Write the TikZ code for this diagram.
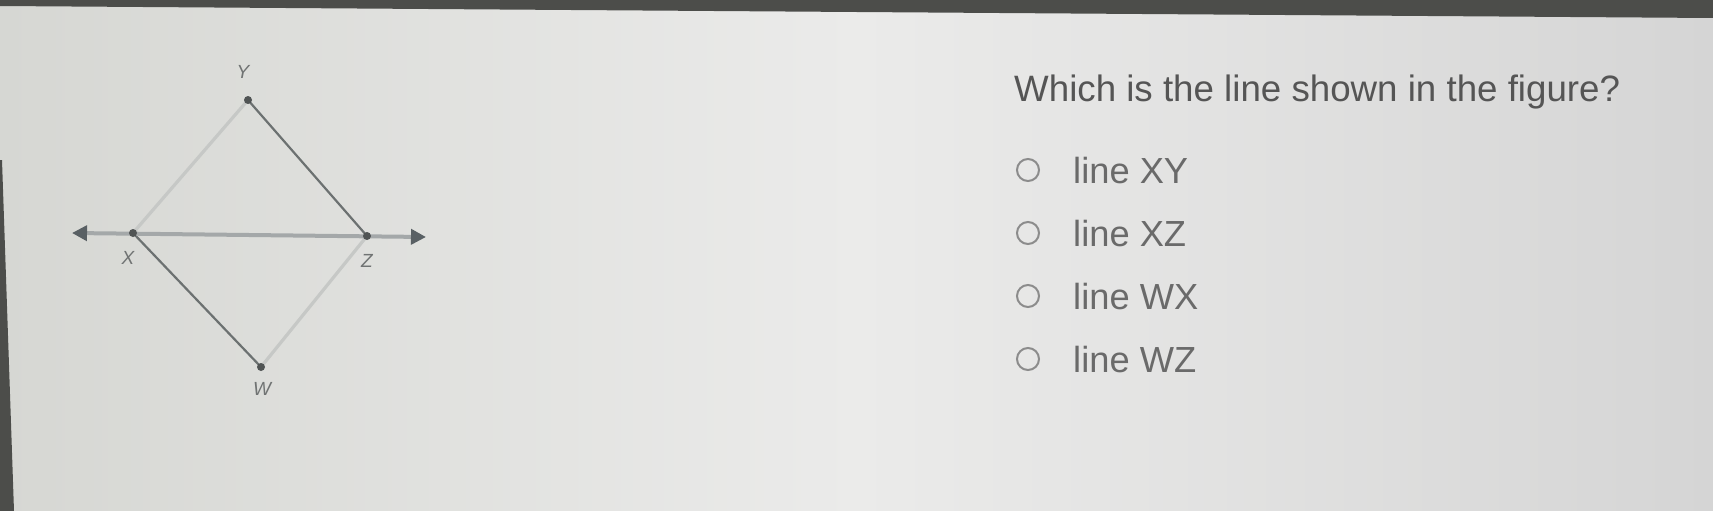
\documentclass[tikz,border=0pt]{standalone}
\usepackage{fontspec}
\setmainfont{Liberation Sans}
\usetikzlibrary{arrows.meta}
\definecolor{bgl}{HTML}{D6D7D3}
\definecolor{bgm}{HTML}{EBEBEA}
\definecolor{bgr}{HTML}{D5D5D5}
\definecolor{frame}{HTML}{4C4D4A}
\definecolor{faint}{HTML}{C6C8C6}
\definecolor{darkseg}{HTML}{6C7171}
\definecolor{mainln}{HTML}{A4A8A9}
\definecolor{tipcol}{HTML}{596064}
\definecolor{dotcol}{HTML}{505454}
\definecolor{titlecol}{HTML}{555555}
\definecolor{optcol}{HTML}{6A6A6A}
\definecolor{radiocol}{HTML}{8C8C8C}
\definecolor{labcol}{HTML}{707373}
\tikzset{
  pt/.style={circle,fill=dotcol,inner sep=0pt,minimum size=8pt},
  lab/.style={text=labcol,font=\fontsize{19}{20}\selectfont\rmfamily\itshape,inner sep=0pt},
  radio/.style={circle,draw=radiocol,line width=2pt,minimum size=22pt,inner sep=0pt},
  opt/.style={anchor=base west,text=optcol,font=\fontsize{36.3}{44}\selectfont,inner sep=0pt},
  title/.style={anchor=base west,text=titlecol,font=\fontsize{36.7}{44}\selectfont,inner sep=0pt},
  faintseg/.style={draw=faint,line width=3.2pt},
  darkline/.style={draw=darkseg,line width=2.2pt},
}
\begin{document}
\begin{tikzpicture}[x=1pt,y=-1pt]
\useasboundingbox (0,0) rectangle (1713,511);
\shade[left color=bgl,right color=bgr,middle color=bgm] (0,0) rectangle (1713,511);
\fill[frame] (0,0) -- (1713,0) -- (1713,18) -- (0,6) -- cycle;
\fill[frame] (0,160) -- (2,160) -- (14,511) -- (0,511) -- cycle;
% figure
\coordinate (X) at (133,233);
\coordinate (Y) at (248,100);
\coordinate (Z) at (367,236);
\coordinate (W) at (261,367);
\coordinate (L) at (72,233);
\coordinate (R) at (426,237);
\draw[faintseg] (X) -- (Y);
\draw[faintseg] (W) -- (Z);
\draw[darkline] (Y) -- (Z);
\draw[darkline] (X) -- (W);
\draw[draw=mainln,line width=4pt,{Triangle[length=15pt,width=15pt,color=tipcol]}-{Triangle[length=15pt,width=15pt,color=tipcol]}] (L) -- (R);
\node[pt] (pX) at (X) {};
\node[pt] (pY) at (Y) {};
\node[pt] (pZ) at (Z) {};
\node[pt] (pW) at (W) {};
\node[lab] (lY) at (243,72) {Y};
\node[lab] (lX) at (128,258) {X};
\node[lab] (lZ) at (367,261) {Z};
\node[lab] (lW) at (262,389) {W};
% question
\node[title] (q) at (1014,101) {Which is the line shown in the figure?};
\node[radio] (r1) at (1028,170) {};
\node[radio] (r2) at (1028,233) {};
\node[radio] (r3) at (1028,296) {};
\node[radio] (r4) at (1028,359) {};
\node[opt] (o1) at (1073,183) {line XY};
\node[opt] (o2) at (1073,246) {line XZ};
\node[opt] (o3) at (1073,309) {line WX};
\node[opt] (o4) at (1073,372) {line WZ};
\end{tikzpicture}
\end{document}
